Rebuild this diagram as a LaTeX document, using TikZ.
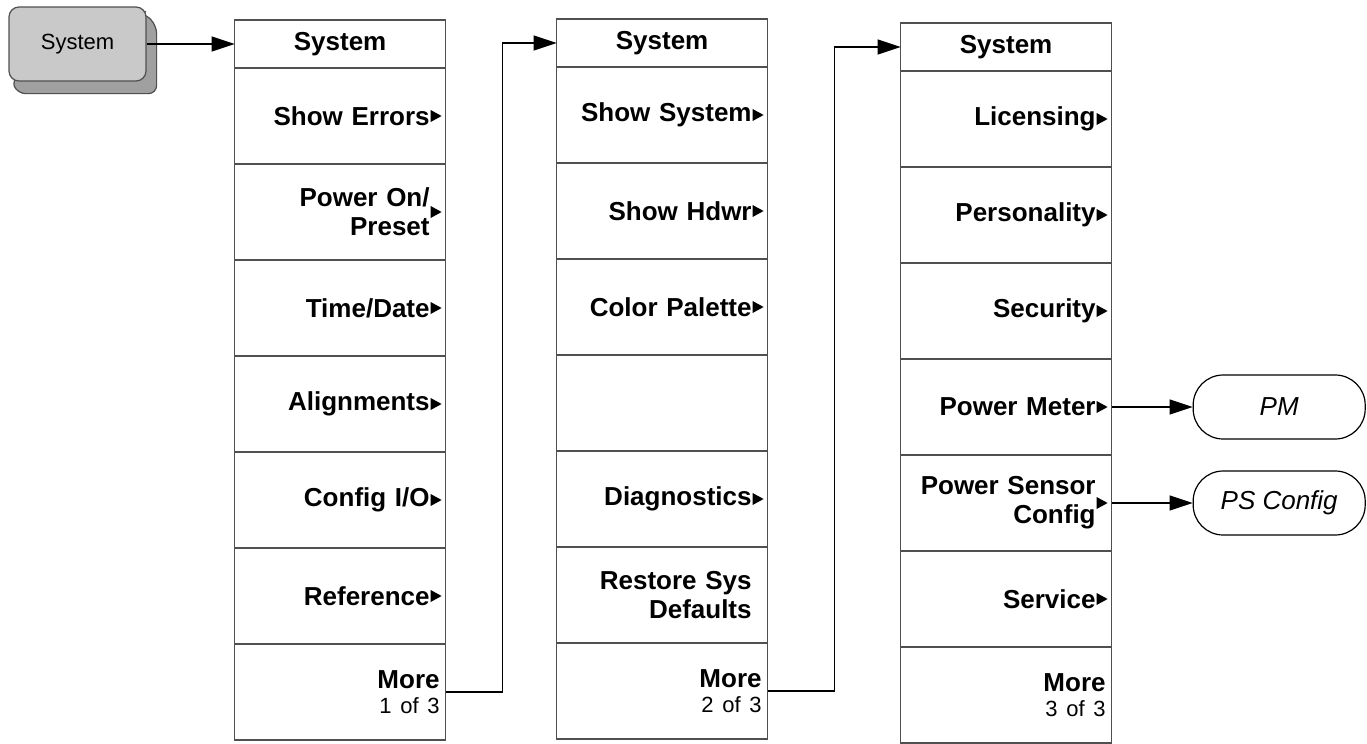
\documentclass[tikz,border=0pt]{standalone}
\usepackage{fontspec}
\setmainfont{Liberation Sans}
\usepackage{xcolor}
\definecolor{edge1}{HTML}{505050}
\definecolor{keyface}{HTML}{C9C9C9}
\definecolor{keyside}{HTML}{A0A0A0}
\usepackage{tikz}
\usetikzlibrary{arrows.meta, positioning, backgrounds}

\begin{document}
\begin{tikzpicture}[
  x=0.5pt, y=-0.5pt,
  key/.style  = {draw=edge1, fill=keyface, rounded corners=5pt,
                 minimum width=68.5pt, minimum height=37pt,
                 font=\fontsize{11}{13}\selectfont, line width=0.6pt},
  head/.style = {draw=edge1, minimum width=105.5pt, minimum height=24pt,
                 inner sep=0pt, outer sep=0pt, line width=0.6pt,
                 font=\fontsize{13}{14.5}\selectfont\bfseries},
  item/.style = {head, minimum height=48pt, text width=89.5pt,
                 inner xsep=8pt, align=right},
  sub/.style  = {item, path picture={\fill
                 ([xshift=-2pt]path picture bounding box.east)
                 -- ++(-5.5pt,3pt) -- ++(0pt,-6pt) -- cycle;}},
  more/.style = {item, text width=99.5pt, inner xsep=3pt},
  menu/.style = {draw=black, rounded corners=15pt, minimum width=86pt,
                 minimum height=32pt, line width=0.6pt,
                 font=\fontsize{13}{15}\selectfont\itshape},
  arr/.style  = {-{Triangle[length=11.5pt,width=7.5pt]}, line width=0.6pt},
  node distance = 0pt
]
\useasboundingbox (0,0) rectangle (1367,744);

\node[key] (key) at (77.5,44) {System};
\begin{scope}[on background layer]
  \filldraw[draw=edge1, fill=keyside, line width=0.6pt, rounded corners=4pt]
    ([xshift=-4pt,yshift=-4pt]key.north east)
    -- ([xshift=-1.5pt,yshift=-3pt]key.north east)
    -- ([xshift=5pt,yshift=-9.5pt]key.north east)
    -- ([xshift=5pt,yshift=-6pt]key.south east)
    -- ([xshift=4.5pt,yshift=-6pt]key.south west)
    -- ([xshift=1.5pt,yshift=1pt]key.south west) -- cycle;
\end{scope}

% page 1 of 3
\node[head, right=44pt of key]        (hdA)    {System};
\node[sub, below=of hdA]              (errs)   {Show Errors};
\node[sub, below=of errs]             (pwron)  {Power On/\\Preset};
\node[sub, below=of pwron]            (tdate)  {Time/Date};
\node[sub, below=of tdate]            (align)  {Alignments};
\node[sub, below=of align]            (cfgio)  {Config I/O};
\node[sub, below=of cfgio]            (ref)    {Reference};
\node[more, below=of ref]             (moreA)
  {More\\[-2pt]{\mdseries\fontsize{11}{12}\selectfont 1 of 3}};

% page 2 of 3
\node[head, right=55.5pt of hdA, yshift=0.5pt] (hdB) {System};
\node[sub, below=of hdB]              (shsys)  {Show System};
\node[sub, below=of shsys]            (hdwr)   {Show Hdwr};
\node[sub, below=of hdwr]             (palette){Color Palette};
\node[item, below=of palette]         (blank)  {};
\node[sub, below=of blank]            (diag)   {Diagnostics};
\node[item, below=of diag]            (restore){Restore Sys\\Defaults};
\node[more, below=of restore]         (moreB)
  {More\\[-2pt]{\mdseries\fontsize{11}{12}\selectfont 2 of 3}};

% page 3 of 3
\node[head, right=66.5pt of hdB, yshift=-2pt] (hdC) {System};
\node[sub, below=of hdC]              (lic)    {Licensing};
\node[sub, below=of lic]              (pers)   {Personality};
\node[sub, below=of pers]             (secur)  {Security};
\node[sub, below=of secur]            (pmeter) {Power Meter};
\node[sub, below=of pmeter]           (psens)  {Power Sensor\\Config};
\node[sub, below=of psens]            (serv)   {Service};
\node[more, below=of serv]            (moreC)
  {More\\[-2pt]{\mdseries\fontsize{11}{12}\selectfont 3 of 3}};

\node[menu, right=40.5pt of pmeter]   (pm)     {PM};
\node[menu, right=40.5pt of psens]    (psc)    {PS Config};

\foreach \a/\b in {key/hdA, pmeter/pm, psens/psc}
  \draw[arr] (\a.east) -- (\b.west);
\draw[arr] (moreA.east) -- ++(57,0) |- (hdB.west);
\draw[arr] (moreB.east) -- ++(67,0) |- (hdC.west);
\end{tikzpicture}
\end{document}
